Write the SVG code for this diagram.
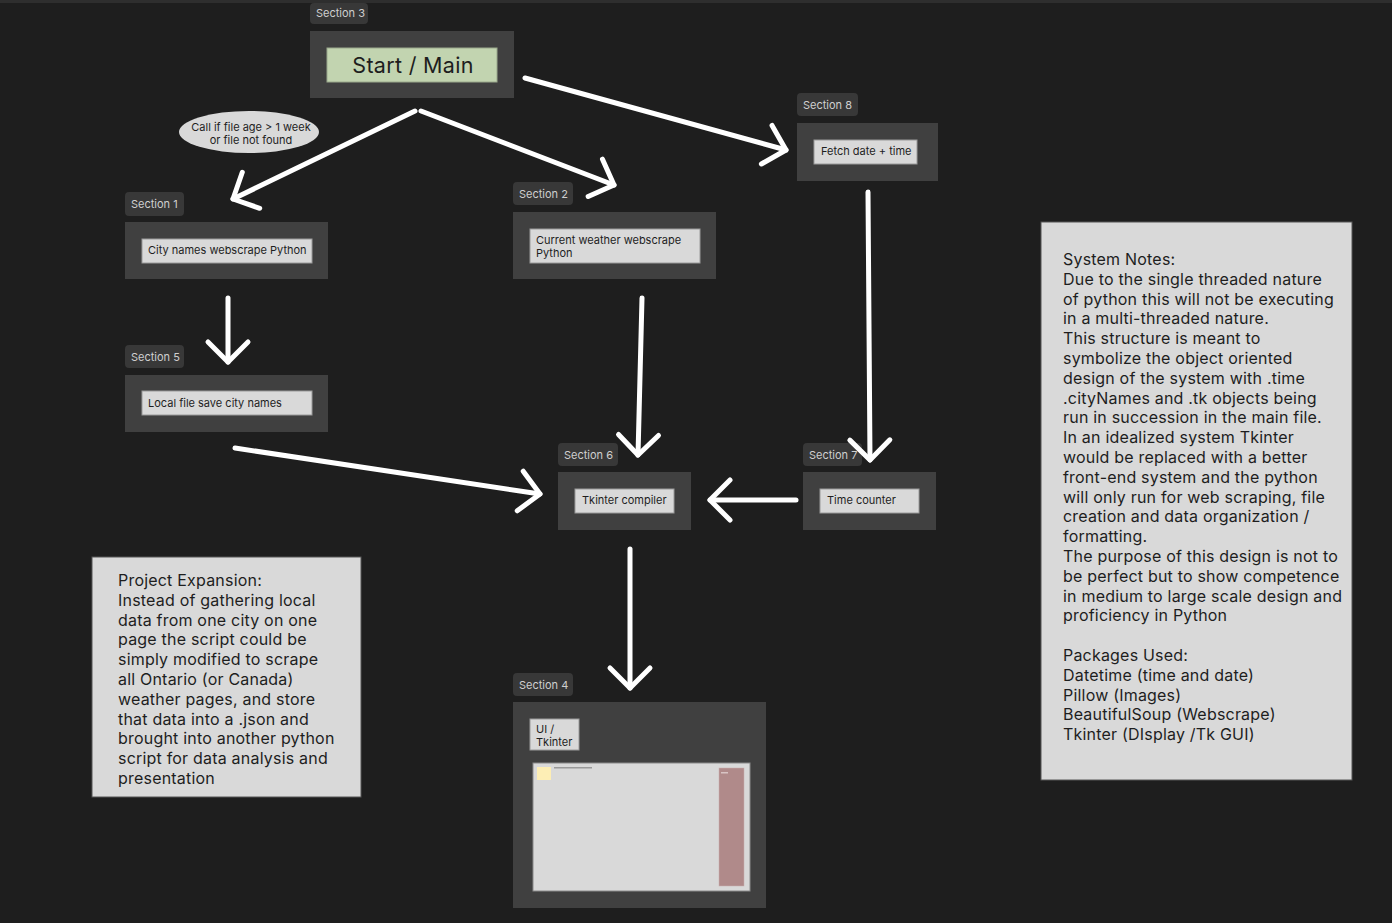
<svg xmlns="http://www.w3.org/2000/svg" width="1392" height="923" viewBox="0 0 1392 923">
<style>
.lbl{fill:#383838}
.lt{font-family:Inter,"Liberation Sans",sans-serif;font-size:11px;fill:#cfcfcf}
.frame{fill:#404040}
.box{fill:#d9d9d9;stroke:#9a9a9a;stroke-width:1}
.bt{font-family:Inter,"Liberation Sans",sans-serif;font-size:11px;fill:#1e1e1e}
.note{font-family:Inter,"Liberation Sans",sans-serif;font-size:16px;fill:#1e1e1e;letter-spacing:0.2px}
.arr{stroke:#ffffff;stroke-width:5;fill:none;stroke-linecap:round;stroke-linejoin:round;marker-end:url(#chev)}
</style>
<defs>
<marker id="chev" markerUnits="userSpaceOnUse" viewBox="-26 -26 32 52" refX="0" refY="0" markerWidth="32" markerHeight="52" orient="auto">
<path d="M-20,-20 L0,0 L-20,20" fill="none" stroke="#ffffff" stroke-width="5" stroke-linecap="round" stroke-linejoin="round"/>
</marker>
</defs>
<rect x="0" y="0" width="1392" height="923" fill="#1e1e1e"/>
<rect x="0" y="0" width="1392" height="3" fill="#2e2e2e"/>

<g id="section3">
<rect class="lbl" x="310" y="3" width="58" height="21" rx="4"/>
<text class="lt" x="316" y="17">Section 3</text>
<rect class="frame" x="310" y="31" width="204" height="67"/>
<rect x="327" y="48" width="170" height="34" fill="#c2d4b0" stroke="#9aa88c" stroke-width="1"/>
<text x="413" y="73" text-anchor="middle" font-family="Inter,'Liberation Sans',sans-serif" font-size="21.5" letter-spacing="0.3" fill="#1e1e1e">Start / Main</text>
</g>

<g id="section8">
<rect class="lbl" x="797" y="93" width="61" height="23" rx="4"/>
<text class="lt" x="803" y="109">Section 8</text>
<rect class="frame" x="797" y="123" width="141" height="58"/>
<rect class="box" x="814" y="140" width="103" height="24"/>
<text class="bt" x="821" y="155">Fetch date + time</text>
</g>

<g id="note-ellipse">
<ellipse cx="249" cy="132" rx="70" ry="21" fill="#d9d9d9"/>
<text class="bt" x="251" y="131" text-anchor="middle">Call if file age &gt; 1 week</text>
<text class="bt" x="251" y="144" text-anchor="middle">or file not found</text>
</g>

<g id="section1">
<rect class="lbl" x="125" y="192" width="59" height="24" rx="4"/>
<text class="lt" x="131" y="208">Section 1</text>
<rect class="frame" x="125" y="222" width="203" height="57"/>
<rect class="box" x="142" y="239" width="170" height="24"/>
<text class="bt" x="148" y="254">City names webscrape Python</text>
</g>

<g id="section2">
<rect class="lbl" x="513" y="182" width="60" height="23" rx="4"/>
<text class="lt" x="519" y="198">Section 2</text>
<rect class="frame" x="513" y="212" width="203" height="67"/>
<rect class="box" x="530" y="229" width="170" height="34"/>
<text class="bt" x="536" y="244">Current weather webscrape</text>
<text class="bt" x="536" y="257">Python</text>
</g>

<g id="section5">
<rect class="lbl" x="125" y="345" width="59" height="23" rx="4"/>
<text class="lt" x="131" y="361">Section 5</text>
<rect class="frame" x="125" y="375" width="203" height="57"/>
<rect class="box" x="142" y="391" width="170" height="24"/>
<text class="bt" x="148" y="407">Local file save city names</text>
</g>

<g id="section6">
<rect class="lbl" x="558" y="443" width="60" height="23" rx="4"/>
<text class="lt" x="564" y="459">Section 6</text>
<rect class="frame" x="558" y="472" width="133" height="58"/>
<rect class="box" x="575" y="489" width="99" height="24"/>
<text class="bt" x="582" y="504">Tkinter compiler</text>
</g>

<g id="section7">
<rect class="lbl" x="803" y="443" width="59" height="23" rx="4"/>
<text class="lt" x="809" y="459">Section 7</text>
<rect class="frame" x="803" y="472" width="133" height="58"/>
<rect class="box" x="820" y="489" width="99" height="24"/>
<text class="bt" x="827" y="504">Time counter</text>
</g>

<g id="section4">
<rect class="lbl" x="513" y="673" width="60" height="23" rx="4"/>
<text class="lt" x="519" y="689">Section 4</text>
<rect class="frame" x="513" y="702" width="253" height="206"/>
<rect class="box" x="530" y="719" width="49" height="31"/>
<text class="bt" x="536" y="733">UI /</text>
<text class="bt" x="536" y="746">Tkinter</text>
<rect x="533" y="763" width="217" height="128" fill="#d9d9d9" stroke="#8a8a8a" stroke-width="1"/>
<rect x="537" y="767" width="14" height="13" fill="#fdeeb5"/>
<rect x="554" y="767" width="38" height="1.5" fill="#9a9a9a"/>
<rect x="719" y="768" width="25" height="118" fill="#b08a8a" stroke="#c9b0b0" stroke-width="0.5"/>
<rect x="721" y="772" width="7" height="1.5" fill="#d8c4c4"/>
</g>

<g id="system-notes">
<rect x="1041" y="222" width="311" height="558" fill="#d9d9d9" stroke="#555" stroke-width="1"/>
<text class="note" x="1063" y="265">
<tspan x="1063" dy="0">System Notes:</tspan>
<tspan x="1063" dy="19.8">Due to the single threaded nature</tspan>
<tspan x="1063" dy="19.8">of python this will not be executing</tspan>
<tspan x="1063" dy="19.8">in a multi-threaded nature.</tspan>
<tspan x="1063" dy="19.8">This structure is meant to</tspan>
<tspan x="1063" dy="19.8">symbolize the object oriented</tspan>
<tspan x="1063" dy="19.8">design of the system with .time</tspan>
<tspan x="1063" dy="19.8">.cityNames and .tk objects being</tspan>
<tspan x="1063" dy="19.8">run in succession in the main file.</tspan>
<tspan x="1063" dy="19.8">In an idealized system Tkinter</tspan>
<tspan x="1063" dy="19.8">would be replaced with a better</tspan>
<tspan x="1063" dy="19.8">front-end system and the python</tspan>
<tspan x="1063" dy="19.8">will only run for web scraping, file</tspan>
<tspan x="1063" dy="19.8">creation and data organization /</tspan>
<tspan x="1063" dy="19.8">formatting.</tspan>
<tspan x="1063" dy="19.8">The purpose of this design is not to</tspan>
<tspan x="1063" dy="19.8">be perfect but to show competence</tspan>
<tspan x="1063" dy="19.8">in medium to large scale design and</tspan>
<tspan x="1063" dy="19.8">proficiency in Python</tspan>
<tspan x="1063" dy="39.6">Packages Used:</tspan>
<tspan x="1063" dy="19.8">Datetime (time and date)</tspan>
<tspan x="1063" dy="19.8">Pillow (Images)</tspan>
<tspan x="1063" dy="19.8">BeautifulSoup (Webscrape)</tspan>
<tspan x="1063" dy="19.8">Tkinter (DIsplay /Tk GUI)</tspan>
</text>
</g>

<g id="project-expansion">
<rect x="92" y="557" width="269" height="240" fill="#d9d9d9" stroke="#555" stroke-width="1"/>
<text class="note" x="118" y="586">
<tspan x="118" dy="0">Project Expansion:</tspan>
<tspan x="118" dy="19.8">Instead of gathering local</tspan>
<tspan x="118" dy="19.8">data from one city on one</tspan>
<tspan x="118" dy="19.8">page the script could be</tspan>
<tspan x="118" dy="19.8">simply modified to scrape</tspan>
<tspan x="118" dy="19.8">all Ontario (or Canada)</tspan>
<tspan x="118" dy="19.8">weather pages, and store</tspan>
<tspan x="118" dy="19.8">that data into a .json and</tspan>
<tspan x="118" dy="19.8">brought into another python</tspan>
<tspan x="118" dy="19.8">script for data analysis and</tspan>
<tspan x="118" dy="19.8">presentation</tspan>
</text>
</g>

<g id="connectors">
<line class="arr" x1="415" y1="111" x2="233" y2="199"/>
<line class="arr" x1="421" y1="111" x2="614" y2="185"/>
<line class="arr" x1="525" y1="78" x2="786" y2="150"/>
<line class="arr" x1="228" y1="298" x2="228" y2="362"/>
<line class="arr" x1="642" y1="298" x2="638" y2="455"/>
<line class="arr" x1="868" y1="192" x2="870" y2="460"/>
<line class="arr" x1="235" y1="448" x2="540" y2="494"/>
<line class="arr" x1="796" y1="500" x2="710" y2="500"/>
<line class="arr" x1="630" y1="549" x2="630" y2="688"/>
</g>
</svg>
